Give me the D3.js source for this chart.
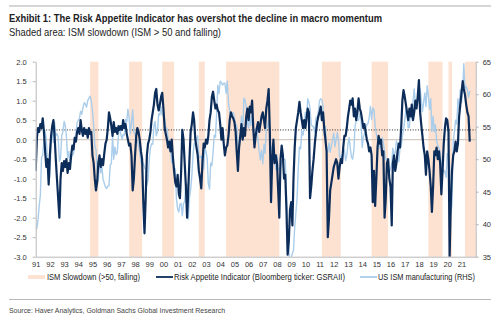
<!DOCTYPE html>
<html>
<head>
<meta charset="utf-8">
<script src="https://cdn.jsdelivr.net/npm/d3@7"></script>
<style>
  body { margin: 0; background: #fff; }
  svg { display: block; font-family: "Liberation Sans", Arial, sans-serif; }
  .narrow { font-family: "Liberation Sans Narrow", "Arial Narrow", "Liberation Sans", sans-serif; }
</style>
</head>
<body>
<div id="chart"></div>
<script>
// monthly values, Jan 1991 onwards
var riskAppetite = [
  -0.8, 0.05, 0.3, 0.2, 0.4, 0.3, 0.55, 0.2, -0.3, -0.7, -0.5, -1.15,
  -0.4, 0.1, 0.35, 0.5, 0.1, -0.5, -1.0, -1.5, -2.0, -1.0, -0.6, -0.8,
  -0.55, -0.7, -0.5, -0.85, -0.6, -0.75, -0.4, -0.15, -0.25, 0.05, -0.05, 0.2,
  0.3, 0.15, 0.5, 0.25, 0.1, 0.3, 0.15, 0.25, 0.05, 0.3, 0.15, 0.2,
  -0.4, -0.6, -1.0, -1.3, -1.1, -0.6, -0.4, -0.7, -0.5, -0.65, -0.35, -0.1,
  0.0, 0.3, 0.7, 0.55, 0.35, 0.1, 0.45, 0.2, 0.3, 0.15, 0.35, 0.25,
  0.35, 0.25, 0.5, 0.3, 0.4, 0.15, 0.0, -0.15, -0.1, -0.4, -1.3, -1.0,
  -0.4, 0.1, 0.3, 0.2, 0.0, -0.3, -0.5, -1.6, -2.4, -1.5, -0.4, -0.1,
  0.0, 0.2, 0.5, 0.7, 0.9, 1.2, 1.3, 0.9, 0.75, 0.9, 1.1, 1.2,
  0.8, 0.3, 0.15, 0.0, -0.2, -0.05, -0.3, 0.0, -0.45, -0.8, -1.1, -1.2,
  -0.9, -1.4, -1.5, -0.8, 0.25, 0.0, -0.6, -1.2, -2.0, -1.3, -0.5, 0.2,
  0.4, 0.7, 0.5, 0.0, -0.2, -0.4, -0.8, -1.0, -1.25, -0.6, -0.1, -0.2,
  0.0, -0.1, 0.1, 0.5, 0.7, 1.1, 1.23, 1.0, 0.8, 0.9, 0.75, 0.7,
  0.4, 0.0, 0.3, -0.1, -0.4, -0.2, -0.15, 0.1, 0.5, 0.7, 0.6, 0.55,
  0.45, 0.2, -0.3, -0.8, -0.2, 0.1, 0.4, 0.0, 0.3, 0.1, 0.6, 0.8,
  0.5, 0.85, 0.7, 1.0, 0.3, -0.2, 0.1, 0.3, 0.45, 0.2, 0.4, 0.6,
  0.7, 0.5, 0.3, 0.8, 1.0, 1.3, 0.2, -1.6, -0.5, 0.0, -0.6, -0.4,
  -0.6, -1.3, -2.0, -0.5, -0.15, -0.4, -1.0, -0.9, -1.8, -2.95, -2.6, -1.8,
  -1.6, -2.2, -1.0, -0.2, 0.3, 0.5, 0.7, 0.97, 0.7, 0.5, 0.3, 0.5,
  0.3, 0.55, 0.8, 0.7, -1.5, -1.2, -0.8, -0.5, -0.1, 0.2, 0.45, 0.6,
  0.7, 0.85, 0.5, 0.7, 0.3, 0.0, -0.3, -2.5, -2.0, -1.3, -1.1, -0.9,
  -0.7, -0.6, -0.5, -0.6, -1.0, -0.7, -0.5, -0.6, -0.2, 0.1, 0.1, 0.3,
  0.6, 0.8, 1.0, 0.9, 1.06, 0.6, 0.8, 0.5, 0.7, 1.06, 0.8, 0.7,
  0.5, 0.3, 0.4, 0.2, 0.0, -0.1, -0.3, -0.2, -0.4, -1.6, -0.8, -1.7,
  -1.0, -0.2, 0.1, -0.1, 0.0, -0.4, -0.3, -2.0, -1.5, -0.6, -0.5, -1.0,
  -1.2, -2.2, -0.6, -0.4, -0.8, -0.6, -0.3, -0.1, -0.2, 0.3, 1.0, 1.27,
  1.1, 0.9, 0.7, 0.5, 0.8, 0.6, 0.9, 0.5, 0.7, 1.0, 0.8, 1.1,
  1.53, 0.7, 0.4, 0.1, -0.2, -0.4, -0.9, -0.3, -0.5, -0.8, -1.2, -1.85,
  -1.2, -0.3, -0.4, -0.2, -0.5, -0.3, -0.6, -1.4, -0.8, -0.1, 0.3, 0.55,
  0.5, 0.2, -3.0, -1.6, -0.8, -0.4, -0.3, -0.05, -0.3, -0.1, 0.6, 0.9,
  1.2, 1.5, 1.3, 1.15, 0.9, 0.7, 0.6, -0.05
];

var ismManufacturing = [
  39.2, 39.4, 40.7, 42.8, 44.5, 50.3, 50.6, 52.9, 54.4, 53.0, 49.6, 46.8,
  47.3, 52.7, 54.6, 52.6, 55.7, 53.6, 53.9, 53.4, 49.7, 50.1, 53.6, 54.2,
  55.8, 55.2, 53.5, 50.2, 51.2, 49.6, 50.2, 50.7, 50.8, 53.3, 53.8, 55.6,
  56.0, 56.3, 57.4, 56.9, 57.9, 58.7, 58.5, 58.0, 59.0, 59.4, 59.7, 59.0,
  57.4, 55.1, 52.1, 51.5, 48.5, 46.7, 50.1, 47.9, 48.8, 46.9, 46.3, 45.7,
  45.5, 45.9, 45.9, 49.1, 49.3, 53.6, 50.0, 51.9, 50.7, 51.1, 53.7, 55.2,
  53.8, 53.1, 53.8, 53.7, 56.1, 55.7, 57.7, 56.3, 53.9, 55.8, 57.6, 54.2,
  53.8, 52.9, 52.9, 52.2, 51.0, 49.6, 49.1, 49.4, 48.7, 48.4, 46.0, 46.8,
  50.0, 51.7, 52.4, 52.3, 55.2, 55.8, 53.6, 54.3, 57.0, 56.8, 58.1, 56.8,
  56.7, 56.1, 54.9, 54.7, 53.2, 51.4, 51.8, 49.5, 49.7, 48.7, 48.5, 43.9,
  42.3, 41.9, 43.1, 43.2, 41.3, 43.2, 43.5, 46.3, 46.2, 40.8, 44.1, 45.3,
  47.5, 50.7, 52.4, 52.4, 53.1, 53.6, 50.2, 50.3, 50.5, 49.0, 48.5, 51.6,
  51.3, 50.0, 46.2, 45.4, 49.4, 49.0, 51.0, 53.7, 53.4, 57.0, 61.4, 60.1,
  62.0, 61.8, 61.4, 61.7, 61.7, 60.1, 62.0, 58.7, 57.4, 56.5, 57.0, 57.2,
  56.4, 55.3, 55.2, 52.3, 51.4, 53.8, 56.6, 53.6, 59.4, 59.1, 58.1, 55.6,
  54.8, 56.7, 55.2, 57.3, 54.4, 53.8, 54.7, 54.5, 52.9, 51.2, 49.9, 51.4,
  49.3, 52.3, 50.9, 54.7, 55.0, 56.0, 53.8, 51.2, 52.0, 50.7, 50.8, 48.4,
  50.7, 48.3, 48.6, 48.6, 49.6, 50.2, 50.0, 49.9, 44.8, 38.9, 36.2, 33.1,
  34.9, 35.5, 36.0, 39.5, 41.7, 44.0, 48.4, 51.9, 51.6, 54.4, 53.7, 54.9,
  57.2, 55.8, 59.3, 58.8, 57.8, 55.3, 55.1, 54.9, 54.2, 56.4, 56.5, 57.3,
  59.0, 59.3, 59.1, 58.0, 53.7, 55.0, 51.4, 51.1, 52.5, 51.1, 52.1, 53.0,
  54.0, 51.9, 53.0, 54.1, 53.0, 50.2, 50.5, 50.0, 51.6, 51.4, 49.8, 50.5,
  52.3, 53.3, 51.7, 50.3, 50.0, 51.3, 55.0, 55.9, 56.0, 56.0, 57.0, 56.6,
  51.8, 53.4, 53.9, 54.7, 55.3, 55.5, 56.4, 58.1, 56.1, 57.9, 57.6, 55.1,
  53.9, 53.0, 52.3, 51.7, 52.6, 53.3, 52.5, 51.0, 50.0, 50.1, 48.4, 48.0,
  48.5, 49.3, 51.7, 50.7, 51.0, 52.8, 52.3, 49.6, 51.7, 52.0, 53.5, 54.5,
  56.0, 57.7, 57.2, 54.8, 54.9, 57.8, 56.3, 58.8, 60.8, 58.7, 58.2, 59.7,
  59.1, 60.8, 59.3, 57.3, 58.7, 60.2, 58.1, 61.3, 59.8, 57.7, 59.3, 54.3,
  56.6, 54.2, 55.3, 52.8, 52.1, 51.7, 51.2, 49.1, 47.8, 48.3, 48.1, 47.2,
  50.9, 50.1, 49.1, 41.5, 43.1, 52.6, 54.2, 56.0, 55.4, 59.3, 57.5, 60.7,
  58.7, 60.8, 64.7, 60.7, 61.2, 60.6, 59.5, 60.5
];

// ISM slowdown periods (start month, end month)
var slowdowns = [
  ["1994-11", "1995-06"], ["1997-08", "1998-07"], ["1999-12", "2000-10"],
  ["2002-07", "2002-12"], ["2004-06", "2008-03"], ["2011-03", "2012-07"],
  ["2014-09", "2015-11"], ["2018-09", "2019-09"], ["2020-02", "2020-05"],
  ["2021-04", "2022-01"]
];

var yearLabels = d3.range(1991, 2022);
var leftTicks = [2.0, 1.5, 1.0, 0.5, 0.0, -0.5, -1.0, -1.5, -2.0, -2.5, -3.0];
var rightTicks = [65, 60, 55, 50, 45, 40, 35];
var zeroLevel = 0;
var dottedLevel = 0.25;

var legendItems = [
  { label: "ISM Slowdown (>50, falling)", kind: "band" },
  { label: "Risk Appetite Indicator (Bloomberg ticker: GSRAII)", kind: "rai" },
  { label: "US ISM manufacturing (RHS)", kind: "ism" }
];

var width = 500, height = 323;
var plot = { left: 35.7, right: 475.7, top: 61.7, bottom: 256.7 };

var bandColor = "#fde2d2";
var raiColor = "#0c2c5a";
var ismColor = "#a9cdea";

var parseMonth = d3.timeParse("%Y-%m");
var start = new Date(1991, 0, 1);
function monthDate(i) { return d3.timeMonth.offset(start, i); }

var fmt = d3.formatLocale({ decimal: ".", thousands: ",", grouping: [3], currency: ["$", ""], minus: "-" }).format(".1f");

var x = d3.scaleTime()
  .domain([new Date(1991, 0, 1), new Date(2022, 0, 1)])
  .range([plot.left, plot.right]);
var yLeft = d3.scaleLinear().domain([-3, 2]).range([plot.bottom, plot.top]);
var yRight = d3.scaleLinear().domain([35, 65]).range([plot.bottom, plot.top]);

var svg = d3.select("#chart").append("svg")
  .attr("width", width)
  .attr("height", height);

// header
svg.append("line")
  .attr("x1", 9).attr("x2", 491).attr("y1", 6).attr("y2", 6)
  .attr("stroke", "#c8c8c8").attr("stroke-width", 1.5);

svg.append("text")
  .attr("class", "narrow")
  .attr("x", 9).attr("y", 22)
  .attr("font-size", 11).attr("font-weight", "bold").attr("fill", "#222")
  .attr("textLength", 373).attr("lengthAdjust", "spacingAndGlyphs")
  .text("Exhibit 1: The Risk Appetite Indicator has overshot the decline in macro momentum");

svg.append("text")
  .attr("class", "narrow")
  .attr("x", 9).attr("y", 36)
  .attr("font-size", 10.5).attr("fill", "#222")
  .attr("textLength", 212).attr("lengthAdjust", "spacingAndGlyphs")
  .text("Shaded area: ISM slowdown (ISM > 50 and falling)");

svg.append("defs").append("clipPath").attr("id", "plotclip")
  .append("rect")
  .attr("x", plot.left).attr("y", plot.top)
  .attr("width", plot.right - plot.left).attr("height", plot.bottom - plot.top);

// shaded slowdown periods
svg.append("g")
  .selectAll("rect")
  .data(slowdowns)
  .enter()
  .append("rect")
  .attr("x", function (d) { return x(parseMonth(d[0])); })
  .attr("width", function (d) { return x(parseMonth(d[1])) - x(parseMonth(d[0])); })
  .attr("y", plot.top)
  .attr("height", plot.bottom - plot.top)
  .attr("fill", bandColor);

// reference lines
svg.append("line")
  .attr("x1", plot.left).attr("x2", plot.right)
  .attr("y1", yLeft(zeroLevel)).attr("y2", yLeft(zeroLevel))
  .attr("stroke", "#c9beb4").attr("stroke-width", 1);

svg.append("line")
  .attr("x1", plot.left).attr("x2", plot.right)
  .attr("y1", yLeft(dottedLevel)).attr("y2", yLeft(dottedLevel))
  .attr("stroke", "#222").attr("stroke-width", 1)
  .attr("stroke-dasharray", "1,1.6");

var lines = svg.append("g").attr("clip-path", "url(#plotclip)");

lines.append("path")
  .datum(ismManufacturing)
  .attr("fill", "none")
  .attr("stroke", ismColor)
  .attr("stroke-width", 1.4)
  .attr("stroke-linejoin", "round")
  .attr("d", d3.line()
    .x(function (d, i) { return x(monthDate(i)); })
    .y(function (d) { return yRight(d); }));

lines.append("path")
  .datum(riskAppetite)
  .attr("fill", "none")
  .attr("stroke", raiColor)
  .attr("stroke-width", 2.2)
  .attr("stroke-linejoin", "round")
  .attr("d", d3.line()
    .x(function (d, i) { return x(monthDate(i)); })
    .y(function (d) { return yLeft(d); }));

// axes
function styleAxis(g) {
  g.selectAll(".domain").attr("stroke", "#b8b8b8");
  g.selectAll(".tick line").attr("stroke", "#b8b8b8");
  g.selectAll(".tick text").attr("fill", "#333").attr("font-size", 7.5);
}

svg.append("g")
  .attr("transform", "translate(" + plot.left + ",0)")
  .call(d3.axisLeft(yLeft).tickValues(leftTicks).tickFormat(fmt).tickSize(3).tickSizeOuter(0).tickPadding(6))
  .call(styleAxis);

svg.append("g")
  .attr("transform", "translate(" + plot.right + ",0)")
  .call(d3.axisRight(yRight).tickValues(rightTicks).tickSize(3).tickSizeOuter(0).tickPadding(4))
  .call(styleAxis);

svg.append("g")
  .attr("transform", "translate(0," + plot.bottom + ")")
  .call(d3.axisBottom(x)
    .tickValues(yearLabels.map(function (y) { return new Date(y, 0, 1); }))
    .tickFormat(d3.timeFormat("%y"))
    .tickSize(0).tickSizeOuter(0).tickPadding(5))
  .call(styleAxis);

// legend
var legendPos = [28, 156, 360];
var legendWidths = [93, 171, 97];
var legend = svg.append("g")
  .selectAll("g")
  .data(legendItems)
  .enter()
  .append("g")
  .attr("transform", function (d, i) { return "translate(" + legendPos[i] + ",277)"; });

legend.append("line")
  .attr("x1", 0).attr("x2", 17).attr("y1", 0).attr("y2", 0)
  .attr("stroke", function (d) {
    return d.kind === "band" ? bandColor : d.kind === "rai" ? raiColor : ismColor;
  })
  .attr("stroke-width", function (d) { return d.kind === "band" ? 4 : 1.8; });

legend.append("text")
  .attr("x", function (d) { return d.kind === "band" ? 19 : 18; })
  .attr("y", 3)
  .attr("font-size", 8.3)
  .attr("fill", "#222")
  .attr("textLength", function (d, i) { return legendWidths[i]; })
  .attr("lengthAdjust", "spacingAndGlyphs")
  .text(function (d) { return d.label; });

// footer
svg.append("line")
  .attr("x1", 9).attr("x2", 491).attr("y1", 299.5).attr("y2", 299.5)
  .attr("stroke", "#b8b8b8").attr("stroke-width", 1);

svg.append("text")
  .attr("x", 9).attr("y", 313)
  .attr("font-size", 7.5).attr("fill", "#444")
  .attr("textLength", 216).attr("lengthAdjust", "spacingAndGlyphs")
  .text("Source: Haver Analytics, Goldman Sachs Global Investment Research");
</script>
</body>
</html>
